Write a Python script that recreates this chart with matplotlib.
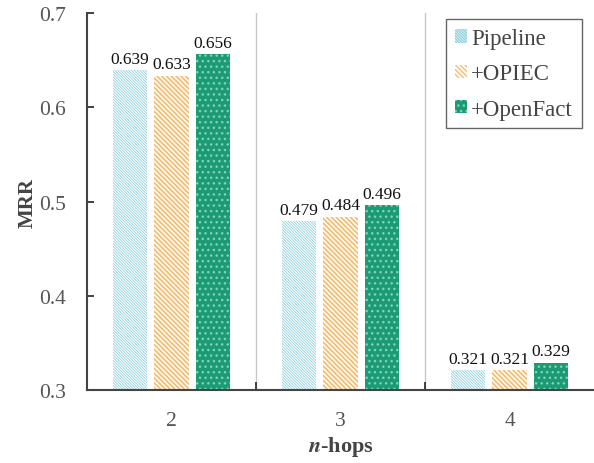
import numpy as np
import matplotlib
matplotlib.use("Agg")
import matplotlib.pyplot as plt

# ---- data ----
hops = ["2", "3", "4"]
methods = ["Pipeline", "+OPIEC", "+OpenFact"]
pipeline = [0.639, 0.479, 0.321]
opiec = [0.633, 0.484, 0.321]
openfact = [0.656, 0.496, 0.329]

plt.rcParams.update({
    "font.family": "Liberation Serif",
    "mathtext.fontset": "stix",
})

fig = plt.figure(figsize=(5.94, 4.64), dpi=100)
ax = fig.add_axes([0.1465, 0.157, 0.8535, 0.813])

x = np.arange(len(hops))
w = 0.205
step = 0.245
styles = [
    (0.6, dict(facecolor="white", edgecolor="#8fd0dd", hatch="\\" * 12)),
    (1.3, dict(facecolor="white", edgecolor="#f6bd70", hatch="\\" * 7)),
    (1.0, dict(facecolor="#1b9a74", edgecolor="#7fd3b8", hatch="...")),
]
for k, (name, vals) in enumerate(zip(methods, [pipeline, opiec, openfact])):
    hlw, st = styles[k]
    with plt.rc_context({"hatch.linewidth": hlw}):
        bars = ax.bar(x + (k - 1) * step, vals, w, label=name, linewidth=0, **st)
    for b, v in zip(bars, vals):
        ax.text(b.get_x() + b.get_width() / 2, v + 0.004, f"{v:.3f}",
                ha="center", va="bottom", fontsize=12.5, color="#111111")

for sep in [0.5, 1.5]:
    ax.axvline(sep, color="#c8c8c8", lw=1.0, zorder=0)

ax.set_xlim(-0.5, 2.5)
ax.set_ylim(0.3, 0.7)
ax.set_yticks([0.3, 0.4, 0.5, 0.6, 0.7])
ax.set_yticklabels(["0.3", "0.4", "0.5", "0.6", "0.7"])
ax.set_xticks(x)
ax.set_xticklabels(hops)
ax.set_xticks([0.5, 1.5], minor=True)
ax.tick_params(axis="x", which="major", length=0, pad=15, labelsize=15.5, labelcolor="#555555")
ax.tick_params(axis="x", which="minor", direction="in", length=6, width=1.3, color="#333333")
ax.tick_params(axis="y", direction="in", length=5, width=1.3, color="#333333",
               labelsize=15.5, labelcolor="#555555", pad=15)

for s in ["top", "right"]:
    ax.spines[s].set_visible(False)
for s in ["left", "bottom"]:
    ax.spines[s].set_color("#444444")
    ax.spines[s].set_linewidth(1.5)

ax.set_ylabel("MRR", fontsize=15, fontweight="bold", color="#444444", labelpad=1)
ax.set_xlabel(r"$\mathbfit{n}$-hops", fontsize=16, fontweight="bold", color="#444444", labelpad=3)

leg = ax.legend(loc="upper right", bbox_to_anchor=(0.985, 0.995), fontsize=16.5,
                fancybox=False, edgecolor="#666666", framealpha=1,
                handlelength=0.52, handleheight=0.52, handletextpad=0.2,
                labelspacing=0.62, borderpad=0.38, borderaxespad=0.2)
leg.get_frame().set_linewidth(1.0)
for t in leg.get_texts():
    t.set_color("#444444")

fig.savefig("out.png", dpi=100)
